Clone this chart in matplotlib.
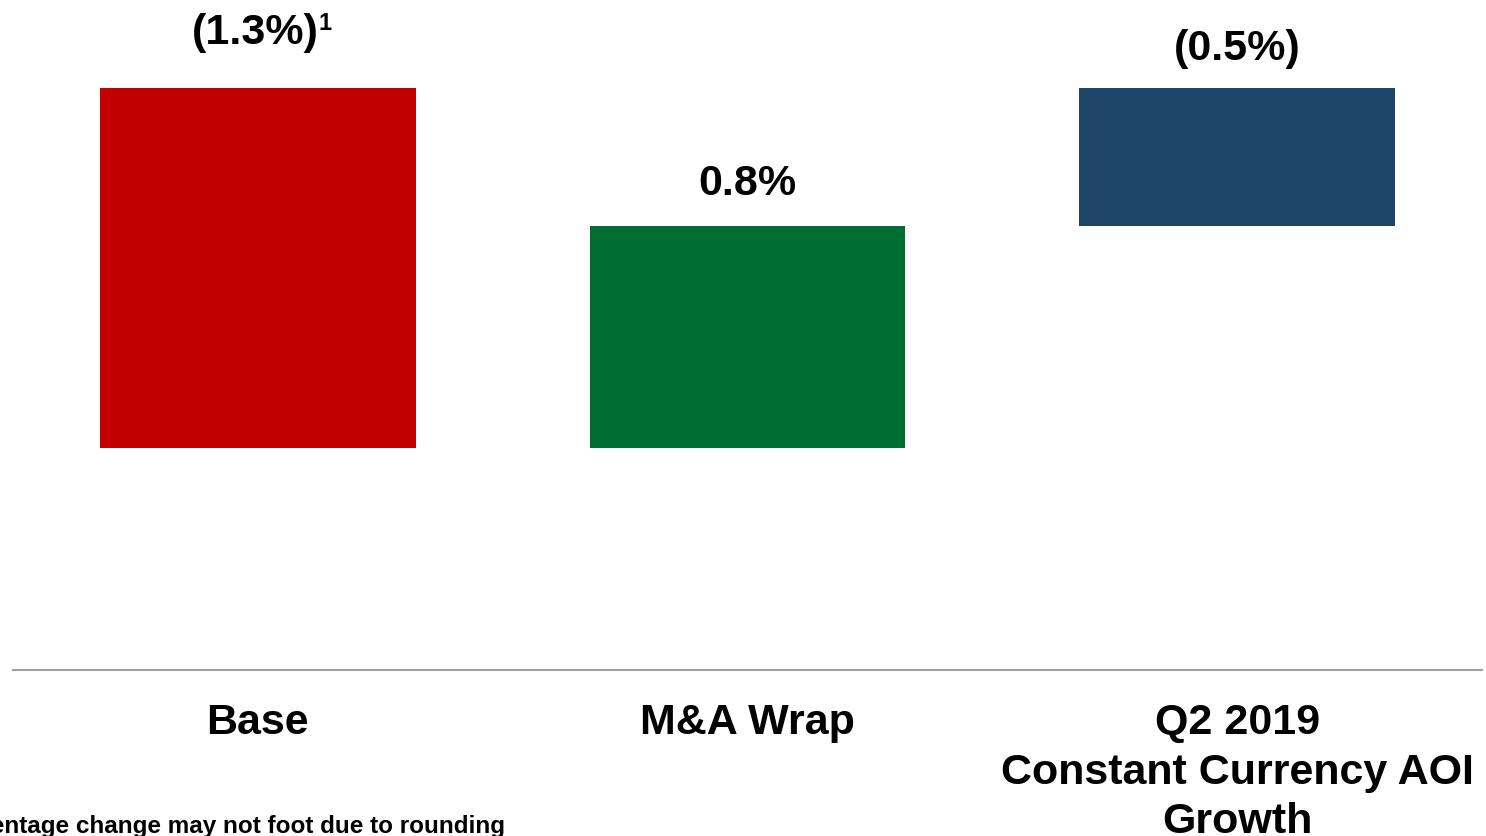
import matplotlib.pyplot as plt

plt.rcParams['font.family'] = ['Liberation Sans', 'DejaVu Sans']

# Data
kategorier = ["Base", "M&A Wrap", "Q2 2019\nConstant Currency AOI\nGrowth"]
varden = [-1.3, 0.8, -0.5]
etiketter = ["(1.3%)", "0.8%", "(0.5%)"]
farger = ["#C00000", "#006E33", "#1E4669"]

# Waterfall: start, mellansteg och total
starter = [0, varden[0], 0]
hojder = [varden[0], varden[1], varden[2]]
lyft = [25, 16, 14]  # avstånd etikett-stapel i punkter

fig = plt.figure(figsize=(14.86, 8.36), dpi=100)
ax = fig.add_axes([13 / 1486, 166 / 836, 1469 / 1486, 670 / 836])

x = range(len(kategorier))
ax.bar(x, hojder, bottom=starter, width=0.645, color=farger)

# Värdeetiketter ovanför varje stapel
for i in x:
    topp = max(starter[i], starter[i] + hojder[i])
    ax.annotate(etiketter[i], (i, topp), xytext=(-1.5 if i == 0 else 0, lyft[i]),
                textcoords="offset points", ha="center", va="bottom",
                fontsize=31, fontweight="bold")

# Fotnotsmarkering efter första etiketten
ax.annotate("1", (0, 0), xytext=(44, 55), textcoords="offset points",
            ha="left", va="top", fontsize=17, fontweight="bold")

ax.set_xlim(-0.5, 2.5)
ax.set_ylim(-2.102, 0.318)
ax.set_yticks([])
ax.set_xticks(list(x))
ax.set_xticklabels(kategorier, fontsize=31, fontweight="bold", linespacing=1.3)
ax.tick_params(axis="x", length=0, pad=24)

for s in ["top", "left", "right"]:
    ax.spines[s].set_visible(False)
ax.spines["bottom"].set_color("#A0A0A0")
ax.spines["bottom"].set_linewidth(1.5)

fig.text(505 / 1486, 3 / 836, "1 Percentage change may not foot due to rounding",
         ha="right", va="baseline", fontsize=17.5, fontweight="bold")

fig.savefig("out.png", dpi=100)
